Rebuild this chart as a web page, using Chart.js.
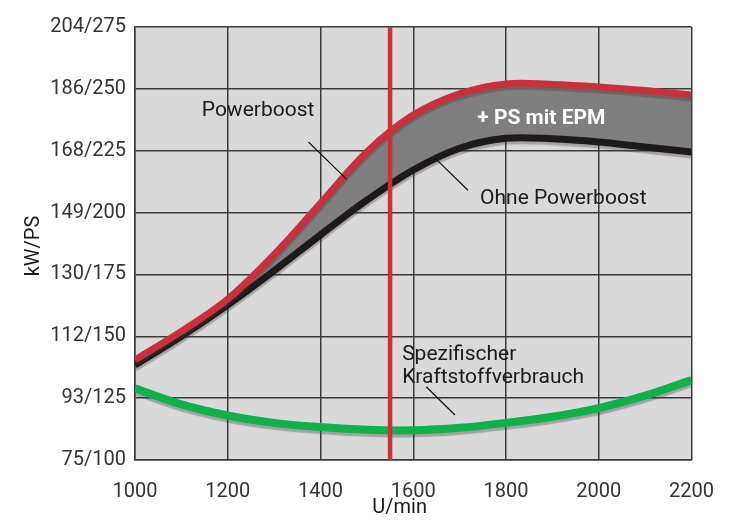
<!DOCTYPE html>
<html>
<head>
<meta charset="utf-8">
<script src="https://cdn.jsdelivr.net/npm/chart.js@4/dist/chart.umd.min.js"></script>
<style>
  html, body { margin: 0; padding: 0; background: #fff; }
  #wrap { width: 734px; height: 525px; }
</style>
</head>
<body>
<div id="wrap"><canvas id="c" width="734" height="525"></canvas></div>
<script>
// ---- data ----
const rpm = [1000, 1100, 1200, 1300, 1400, 1500, 1600, 1700, 1800, 1900, 2000, 2100, 2200];
const powerboostPS = [140.4, 152, 165, 183, 203.7, 224.5, 239.4, 248, 252, 251.8, 250.8, 249.3, 247.5];
const ohnePowerboostPS = [138.4, 150, 162.7, 176.5, 191, 205, 217.2, 226, 230, 229.8, 228.5, 226.5, 224.5];
const verbrauchPS = [129, 122.5, 118, 115, 113.3, 112.2, 112, 113, 115, 117.5, 121, 126, 132.3];
const markerRpm = 1550;
const yTickValues = [100, 125, 150, 175, 200, 225, 250, 275];
const yTickLabels = ['75/100', '93/125', '112/150', '130/175', '149/200', '168/225', '186/250', '204/275'];
const xTickValues = [1000, 1200, 1400, 1600, 1800, 2000, 2200];
const xTitle = 'U/min';
const yTitle = 'kW/PS';
// annotations in data space: text, anchor, leader line
const labels = [
  { text: 'Powerboost', x: 1144, y: 241, bold: false, color: '#1a1a1a' },
  { text: 'Ohne Powerboost', x: 1744, y: 205.5, bold: false, color: '#1a1a1a' },
  { text: '+ PS mit EPM', x: 1738, y: 238, bold: true, color: '#ffffff' },
  { text: 'Spezifischer', x: 1576, y: 142.5, bold: false, color: '#1a1a1a' },
  { text: 'Kraftstoffverbrauch', x: 1576, y: 133.3, bold: false, color: '#1a1a1a' }
];
const leaders = [
  { x1: 1374, y1: 228.5, x2: 1456, y2: 213.5 },
  { x1: 1647, y1: 222, x2: 1718, y2: 209 },
  { x1: 1628, y1: 129.6, x2: 1690, y2: 118.2 }
];

const toPts = (xs, ys) => xs.map((x, i) => ({ x: x, y: ys[i] }));

const fontFam = 'Roboto, "DejaVu Sans", sans-serif';

const bgPlugin = {
  id: 'bg',
  beforeDraw(chart) {
    const a = chart.chartArea, ctx = chart.ctx;
    ctx.save();
    ctx.fillStyle = '#d9d9d9';
    ctx.fillRect(a.left, a.top, a.right - a.left, a.bottom - a.top);
    ctx.restore();
  }
};

const shadowPlugin = {
  id: 'shadow',
  beforeDatasetDraw(chart, args) {
    const ds = chart.data.datasets[args.index];
    chart.ctx.save();
    if (ds.shadow) {
      chart.ctx.shadowColor = 'rgba(60,60,60,0.35)';
      chart.ctx.shadowOffsetX = 0;
      chart.ctx.shadowOffsetY = 3;
      chart.ctx.shadowBlur = 1;
    }
  },
  afterDatasetDraw(chart) {
    chart.ctx.restore();
  }
};

const annoPlugin = {
  id: 'anno',
  afterDatasetsDraw(chart) {
    const ctx = chart.ctx, xs = chart.scales.x, ys = chart.scales.y;
    ctx.save();
    ctx.strokeStyle = '#111';
    ctx.lineWidth = 1.2;
    leaders.forEach(l => {
      ctx.beginPath();
      ctx.moveTo(xs.getPixelForValue(l.x1), ys.getPixelForValue(l.y1));
      ctx.lineTo(xs.getPixelForValue(l.x2), ys.getPixelForValue(l.y2));
      ctx.stroke();
    });
    ctx.textBaseline = 'middle';
    labels.forEach(t => {
      ctx.font = (t.bold ? 'bold ' : '') + '21px ' + fontFam;
      ctx.fillStyle = t.color;
      ctx.textAlign = 'left';
      ctx.fillText(t.text, xs.getPixelForValue(t.x), ys.getPixelForValue(t.y));
    });
    ctx.restore();
  },
  afterDraw(chart) {
    const ctx = chart.ctx, a = chart.chartArea;
    ctx.save();
    ctx.fillStyle = '#1a1a1a';
    ctx.font = '20px ' + fontFam;
    ctx.textAlign = 'center';
    ctx.textBaseline = 'middle';
    ctx.fillText(xTitle, a.left + (a.right - a.left) * 0.4755, 508);
    ctx.translate(34, 246);
    ctx.rotate(-Math.PI / 2);
    ctx.fillText(yTitle, 0, 0);
    ctx.restore();
  }
};

const curveBase = { pointRadius: 0, tension: 0.35, shadow: true };

new Chart(document.getElementById('c'), {
  type: 'line',
  data: {
    datasets: [
      {
        label: 'Marker',
        data: [{ x: markerRpm, y: 100 }, { x: markerRpm, y: 275 }],
        borderColor: '#c9323a',
        borderWidth: 4.5,
        pointRadius: 0,
        order: 0,
        fill: false
      },
      Object.assign({}, curveBase, {
        label: 'Powerboost',
        data: toPts(rpm, powerboostPS),
        borderColor: '#c8313c',
        backgroundColor: '#7f7f7f',
        borderWidth: 7,
        fill: { target: 2 },
        order: 1
      }),
      Object.assign({}, curveBase, {
        label: 'Ohne Powerboost',
        data: toPts(rpm, ohnePowerboostPS),
        borderColor: '#1c1a1b',
        borderWidth: 7,
        fill: false,
        order: 2
      }),
      Object.assign({}, curveBase, {
        label: 'Spezifischer Kraftstoffverbrauch',
        data: toPts(rpm, verbrauchPS),
        borderColor: '#10b04a',
        borderWidth: 8,
        fill: false,
        order: 3
      })
    ]
  },
  options: {
    responsive: false,
    animation: false,
    events: [],
    layout: { padding: { top: 27, right: 41, left: 0, bottom: 0 } },
    plugins: {
      legend: { display: false },
      tooltip: { enabled: false },
      filler: { drawTime: 'beforeDatasetsDraw' }
    },
    scales: {
      x: {
        type: 'linear',
        min: 1000, max: 2200,
        afterBuildTicks(s) { s.ticks = xTickValues.map(v => ({ value: v })); },
        afterFit(s) { s.height = 65; },
        grid: { color: '#3a3a3a', lineWidth: 1.5, drawTicks: false },
        border: { color: '#3a3a3a', width: 1.5 },
        ticks: {
          color: '#333', font: { family: fontFam, size: 20 }, padding: 20, maxRotation: 0,
          callback: (v) => String(v)
        }
      },
      y: {
        type: 'linear',
        min: 100, max: 275,
        afterBuildTicks(s) { s.ticks = yTickValues.map(v => ({ value: v })); },
        afterFit(s) { s.width = 135; },
        grid: { color: '#3a3a3a', lineWidth: 1.5, drawTicks: false },
        border: { color: '#3a3a3a', width: 1.5 },
        ticks: {
          color: '#333', font: { family: fontFam, size: 20 }, padding: 9,
          callback: (v) => { const i = yTickValues.indexOf(v); return i >= 0 ? yTickLabels[i] : ''; }
        }
      }
    }
  },
  plugins: [bgPlugin, shadowPlugin, annoPlugin]
});
</script>
</body>
</html>
